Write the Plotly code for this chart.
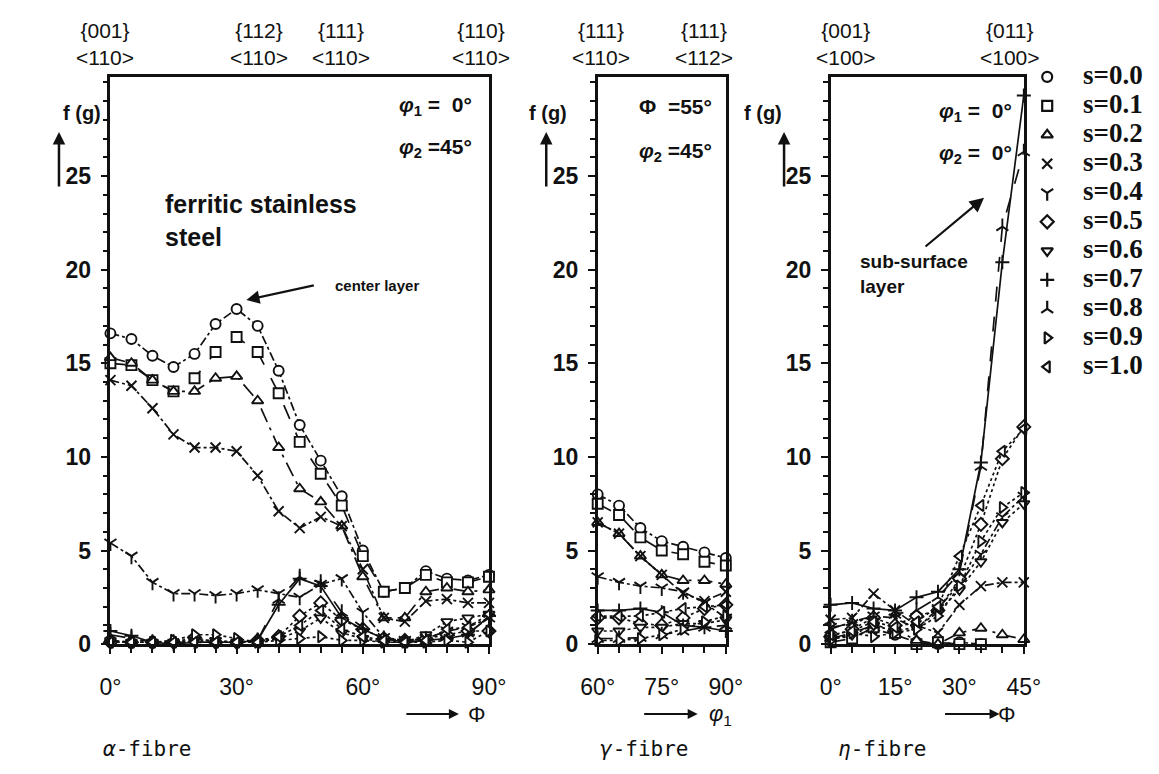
import plotly.graph_objects as go

# ---------------- data ----------------
series_labels = ["s=0.0", "s=0.1", "s=0.2", "s=0.3", "s=0.4", "s=0.5",
                 "s=0.6", "s=0.7", "s=0.8", "s=0.9", "s=1.0"]

# alpha-fibre: Phi 0..90 deg (phi1 = 0, phi2 = 45)
alpha_phi = [0, 5, 10, 15, 20, 25, 30, 35, 40, 45, 50, 55, 60, 65, 70, 75, 80, 85, 90]
alpha_s00 = [16.6, 16.3, 15.4, 14.8, 15.5, 17.1, 17.9, 17.0, 14.6, 11.7, 9.8, 7.9, 5.0, 2.8, 3.0, 3.9, 3.5, 3.4, 3.7]
alpha_s01 = [15.0, 14.9, 14.1, 13.5, 14.2, 15.6, 16.4, 15.6, 13.4, 10.8, 9.1, 7.4, 4.7, 2.8, 3.0, 3.7, 3.3, 3.3, 3.6]
alpha_s02 = [15.3, 15.0, 14.1, 13.5, 13.5, 14.2, 14.3, 13.0, 10.5, 8.3, 7.6, 6.3, 3.6, 1.4, 1.4, 2.8, 3.0, 2.8, 2.9]
alpha_s03 = [14.1, 13.8, 12.6, 11.2, 10.5, 10.5, 10.3, 9.0, 7.1, 6.2, 6.8, 6.3, 4.0, 1.4, 1.2, 2.3, 2.4, 2.2, 2.2]
alpha_s04 = [5.4, 4.7, 3.3, 2.7, 2.7, 2.6, 2.7, 2.9, 2.7, 2.5, 3.2, 3.5, 1.7, 0.35, 0.2, 0.3, 0.7, 0.9, 1.4]
alpha_s05 = [0.1, 0.1, 0.1, 0.1, 0.35, 0.1, 0.1, 0.2, 0.4, 1.5, 2.2, 1.3, 0.8, 0.3, 0.2, 0.3, 0.5, 0.7, 0.7]
alpha_s06 = [0.1, 0.1, 0.1, 0.1, 0.2, 0.2, 0.1, 0.1, 0.3, 0.7, 1.4, 0.6, 0.3, 0.1, 0.1, 0.5, 1.2, 1.4, 1.6]
alpha_s07 = [0.7, 0.45, 0.1, 0.0, 0.1, 0.1, 0.1, 0.2, 2.1, 3.5, 3.1, 1.4, 0.8, 0.3, 0.1, 0.2, 0.3, 0.5, 1.5]
alpha_s08 = [0.5, 0.3, 0.1, 0.1, 0.1, 0.1, 0.1, 0.2, 2.4, 3.6, 3.3, 1.7, 0.9, 0.3, 0.1, 0.2, 0.4, 0.6, 1.4]
alpha_s09 = [0.2, 0.1, 0.1, 0.2, 0.5, 0.5, 0.3, 0.1, 0.2, 0.3, 0.4, 0.2, 0.2, 0.1, 0.1, 0.1, 0.2, 0.1, 0.7]
alpha_s10 = [0.1, 0.1, 0.1, 0.1, 0.1, 0.1, 0.1, 0.1, 0.4, 1.0, 1.8, 0.8, 0.4, 0.2, 0.1, 0.2, 0.8, 0.9, 1.6]

# gamma-fibre: phi1 60..90 deg (Phi = 55, phi2 = 45)
gamma_phi1 = [60, 65, 70, 75, 80, 85, 90]
gamma_s00 = [8.0, 7.4, 6.2, 5.5, 5.2, 4.9, 4.6]
gamma_s01 = [7.5, 6.9, 5.7, 5.0, 4.8, 4.4, 4.2]
gamma_s02 = [6.5, 5.9, 4.7, 3.7, 3.4, 3.4, 3.2]
gamma_s03 = [6.5, 5.9, 4.7, 3.7, 2.7, 2.3, 2.8]
gamma_s04 = [3.6, 3.3, 3.1, 3.0, 2.8, 2.2, 1.4]
gamma_s05 = [1.4, 1.4, 1.1, 1.0, 1.4, 1.9, 2.1]
gamma_s06 = [0.7, 0.7, 0.9, 0.9, 1.1, 1.1, 1.3]
gamma_s07 = [1.8, 1.8, 1.9, 1.7, 1.0, 0.9, 0.7]
gamma_s08 = [0.3, 0.3, 0.35, 0.5, 0.7, 0.9, 1.0]
gamma_s09 = [0.2, 0.2, 0.3, 0.5, 0.8, 1.2, 1.5]
gamma_s10 = [1.5, 1.5, 1.5, 1.7, 1.9, 2.0, 2.1]

# eta-fibre: Phi 0..45 deg (phi1 = 0, phi2 = 0)
eta_phi = [0, 5, 10, 15, 20, 25, 30, 35, 40, 45]
eta_s00 = [0.3, 0.4, 0.8, 0.5, 0.1, 0.0, 0.1, 0.0, None, None]
eta_s01 = [0.1, 0.3, 0.9, 0.6, 0.0, 0.1, 0.0, 0.0, None, None]
eta_s02 = [0.3, 0.6, 1.0, 0.8, 0.2, 0.0, 0.6, 0.85, 0.5, 0.25]
eta_s03 = [1.3, 1.4, 2.7, 1.8, 1.0, 0.6, 2.1, 3.1, 3.3, 3.3]
eta_s04 = [0.9, 1.1, 1.5, 1.4, 0.8, 1.9, 3.2, 4.8, 6.8, 7.9]
eta_s05 = [0.4, 0.8, 1.4, 1.0, 1.5, 1.8, 3.5, 6.4, 9.9, 11.6]
eta_s06 = [0.3, 0.5, 1.0, 0.7, 0.9, 1.7, 2.9, 4.4, 6.5, 7.5]
eta_s07 = [2.1, 2.2, 1.9, 1.8, 2.5, 2.8, 4.0, 9.7, 20.4, 29.3]
eta_s08 = [0.8, 1.2, 1.5, 1.6, 1.8, 2.5, 3.8, 9.5, 22.3, 26.3]
eta_s09 = [0.2, 0.6, 0.4, 0.6, 0.8, 1.5, 3.1, 5.5, 7.3, 8.1]
eta_s10 = [0.5, 0.7, 1.2, 0.9, 1.2, 2.0, 4.7, 7.4, 10.3, 11.5]

alpha_series = [alpha_s00, alpha_s01, alpha_s02, alpha_s03, alpha_s04, alpha_s05,
                alpha_s06, alpha_s07, alpha_s08, alpha_s09, alpha_s10]
gamma_series = [gamma_s00, gamma_s01, gamma_s02, gamma_s03, gamma_s04, gamma_s05,
                gamma_s06, gamma_s07, gamma_s08, gamma_s09, gamma_s10]
eta_series = [eta_s00, eta_s01, eta_s02, eta_s03, eta_s04, eta_s05,
              eta_s06, eta_s07, eta_s08, eta_s09, eta_s10]

# top orientation labels
alpha_top_pos = [0, 35.26, 54.74, 90]
alpha_top_plane = ["{001}", "{112}", "{111}", "{110}"]
alpha_top_dir = ["<110>", "<110>", "<110>", "<110>"]
gamma_top_pos = [60, 90]
gamma_top_plane = ["{111}", "{111}"]
gamma_top_dir = ["<110>", "<112>"]
eta_top_pos = [0, 45]
eta_top_plane = ["{001}", "{011}"]
eta_top_dir = ["<100>", "<100>"]

# ---------------- styles ----------------
W, H = 1159, 774
def fx(px):
    return px / W
def fy(py):
    return 1 - py / H

symbols = ["circle", "square", "triangle-up", "x-thin", "y-down", "diamond",
           "triangle-down", "cross-thin", "y-up", "triangle-right", "triangle-left"]
line_only = {"x-thin", "y-down", "cross-thin", "y-up"}
dashes = ["dashdot", "longdash", "longdashdot", "dashdot", "dashdot", "dot",
          "dot", "solid", "longdash", "dot", "dot"]
INK = "#111111"
YMAX = 30.3

fig = go.Figure()

def add_panel(xs, series_list, xa, ya):
    for i, ys in enumerate(series_list):
        sym = symbols[i]
        fig.add_trace(go.Scatter(
            x=xs, y=ys, xaxis=xa, yaxis=ya, mode="lines+markers",
            showlegend=False, connectgaps=False, cliponaxis=False,
            line=dict(color=INK, width=1.7, dash=dashes[i]),
            marker=dict(symbol=sym, size=10,
                        color="white" if sym not in line_only else INK,
                        line=dict(color=INK, width=1.9)),
        ))

add_panel(alpha_phi, alpha_series, "x", "y")
add_panel(gamma_phi1, gamma_series, "x2", "y2")
add_panel(eta_phi, eta_series, "x3", "y3")

# legend column drawn as its own small axis
leg_idx = list(range(len(series_labels)))
fig.add_trace(go.Scatter(
    x=[0.11] * len(leg_idx), y=leg_idx, xaxis="x4", yaxis="y4", mode="markers",
    showlegend=False, cliponaxis=False,
    marker=dict(symbol=symbols, size=10,
                color=["white" if s not in line_only else INK for s in symbols],
                line=dict(color=INK, width=2.2)),
))
fig.add_trace(go.Scatter(
    x=[0.42] * len(leg_idx), y=leg_idx, xaxis="x4", yaxis="y4", mode="text",
    text=[f"<b>{t}</b>" for t in series_labels], textposition="middle right",
    showlegend=False, cliponaxis=False,
    textfont=dict(family="Liberation Serif", size=27, color=INK),
))

xtickfont = dict(family="Liberation Sans", size=23, color=INK)
ytickfont = dict(family="Liberation Sans", size=23, color=INK, weight="bold")
ydom = [fy(647), fy(70)]

def xaxis_def(px0, px1, rng, major, minor_dt):
    return dict(
        domain=[fx(px0), fx(px1)], range=rng, tickvals=major,
        ticktext=[f"{v}°" for v in major],
        ticks="outside", ticklen=7, tickwidth=2, tickcolor=INK,
        minor=dict(dtick=minor_dt, tick0=rng[0], ticks="outside", ticklen=6,
                   tickwidth=2, tickcolor=INK),
        showline=True, linewidth=2.5, linecolor=INK, mirror=True,
        showgrid=False, zeroline=False, tickfont=xtickfont,
        ticklabelstandoff=14, fixedrange=True,
    )

def yaxis_def(anchor):
    return dict(
        domain=ydom, range=[0, YMAX], anchor=anchor,
        tickvals=[0, 5, 10, 15, 20, 25], ticks="outside", ticklen=7,
        tickwidth=2, tickcolor=INK,
        minor=dict(dtick=1, tick0=0, ticks="outside", ticklen=5, tickwidth=1.5,
                   tickcolor=INK),
        showline=True, linewidth=2.5, linecolor=INK, mirror=True,
        showgrid=False, zeroline=False, tickfont=ytickfont,
        ticklabelstandoff=5, fixedrange=True,
    )

fig.update_layout(
    width=W, height=H, margin=dict(l=0, r=0, t=0, b=0),
    paper_bgcolor="white", plot_bgcolor="white", showlegend=False,
    xaxis=xaxis_def(88, 478, [0, 90], [0, 30, 60, 90], 5) | dict(anchor="y"),
    yaxis=yaxis_def("x"),
    xaxis2=xaxis_def(590, 722, [60, 90], [60, 75, 90], 5) | dict(anchor="y2"),
    yaxis2=yaxis_def("x2"),
    xaxis3=xaxis_def(830, 1029, [0, 45], [0, 15, 30, 45], 5) | dict(anchor="y3"),
    yaxis3=yaxis_def("x3"),
    xaxis4=dict(domain=[fx(1040), 1.0], range=[0, 1], visible=False, anchor="y4",
                fixedrange=True),
    yaxis4=dict(domain=[fy(379.75), fy(55.25)], range=[10.5, -0.5], visible=False,
                anchor="x4", fixedrange=True),
)

ann = []
topfont = dict(family="Liberation Sans", size=21, color=INK)

def top_labels(xref, pos, planes, dirs, shifts):
    for p, a, b, s in zip(pos, planes, dirs, shifts):
        txt = a + "<br>" + b.replace("<", "&lt;").replace(">", "&gt;")
        ann.append(dict(x=p, y=fy(37), xref=xref, yref="paper", text=txt,
                        showarrow=False, font=topfont, xshift=s, yanchor="middle"))

top_labels("x", alpha_top_pos, alpha_top_plane, alpha_top_dir, [-5, 0, 0, -8])
top_labels("x2", gamma_top_pos, gamma_top_plane, gamma_top_dir, [3, -22])
top_labels("x3", eta_top_pos, eta_top_plane, eta_top_dir, [15, -14])

labfont = dict(family="Liberation Sans", size=20, color=INK)
# f(g) labels and up arrows
for cx, ax_x in [(37, 35), (539, 537), (782, 782)]:
    ann.append(dict(x=fx(cx), y=fy(107), xref="paper", yref="paper",
                    text="<b>f (g)</b>", showarrow=False, font=labfont,
                    yanchor="middle"))
    ann.append(dict(x=fx(ax_x), y=fy(126), xref="paper", yref="paper", text="",
                    showarrow=True, ax=0, ay=56, arrowhead=2, arrowsize=1,
                    arrowwidth=2.5, arrowcolor=INK))

# angle annotations in panels
angfont = dict(family="Liberation Sans", size=21, color=INK)
panel_text = [
    (463, 100, "<b><i>φ</i><sub>1</sub> =  0°</b>"),
    (463, 142, "<b><i>φ</i><sub>2</sub> =45°</b>"),
    (710, 100, "<b>Φ  =55°</b>"),
    (710, 146, "<b><i>φ</i><sub>2</sub> =45°</b>"),
    (1019, 106, "<b><i>φ</i><sub>1</sub> =  0°</b>"),
    (1019, 148, "<b><i>φ</i><sub>2</sub> =  0°</b>"),
]
for px, py, t in panel_text:
    ann.append(dict(x=fx(px), y=fy(py), xref="paper", yref="paper", text=t,
                    showarrow=False, font=angfont, xanchor="right",
                    yanchor="middle"))

# ferritic stainless steel
ann.append(dict(x=fx(142), y=fy(216), xref="paper", yref="paper",
                text="<b>ferritic stainless<br>steel</b>", align="left",
                showarrow=False, xanchor="left", yanchor="middle",
                font=dict(family="Liberation Sans", size=25, color=INK)))
# center layer
ann.append(dict(x=fx(317), y=fy(282), xref="paper", yref="paper",
                text="<b>center layer</b>", showarrow=False, xanchor="left",
                yanchor="middle",
                font=dict(family="Liberation Sans", size=15, color=INK)))
ann.append(dict(x=fx(228), y=fy(297), xref="paper", yref="paper", text="",
                showarrow=True, ax=69, ay=-15, arrowhead=2, arrowsize=1.2,
                arrowwidth=2.2, arrowcolor=INK))
# sub-surface layer
ann.append(dict(x=fx(858), y=fy(271), xref="paper", yref="paper",
                text="<b>sub-surface<br>layer</b>", showarrow=False, xanchor="left",
                yanchor="middle", align="left",
                font=dict(family="Liberation Sans", size=19, color=INK)))
ann.append(dict(x=fx(988), y=fy(193), xref="paper", yref="paper", text="",
                showarrow=True, ax=-60, ay=50, arrowhead=2, arrowsize=1.3,
                arrowwidth=2.2, arrowcolor=INK))

# bottom axis arrows and names
for tip, tail, sx, sym in [(447, 393, 466, "Φ"), (693, 638, 717, "<i>φ</i><sub>1</sub>"),
                           (1004, 948, 1023, "Φ")]:
    ann.append(dict(x=fx(tip), y=fy(718), xref="paper", yref="paper", text="",
                    showarrow=True, ax=tail - tip, ay=0, arrowhead=2, arrowsize=1,
                    arrowwidth=2, arrowcolor=INK))
    ann.append(dict(x=fx(sx), y=fy(719), xref="paper", yref="paper", text=sym,
                    showarrow=False, yanchor="middle",
                    font=dict(family="Liberation Sans", size=22, color=INK)))

fibfont = dict(family="DejaVu Sans Mono", size=21, color=INK)
for px, t in [(78, "<i>α</i>-fibre"), (590, "<i>γ</i>-fibre"), (836, "<i>η</i>-fibre")]:
    ann.append(dict(x=fx(px), y=fy(754), xref="paper", yref="paper", text=t,
                    showarrow=False, xanchor="left", yanchor="middle", font=fibfont))

fig.update_layout(annotations=ann)
fig.write_html("out.html")
